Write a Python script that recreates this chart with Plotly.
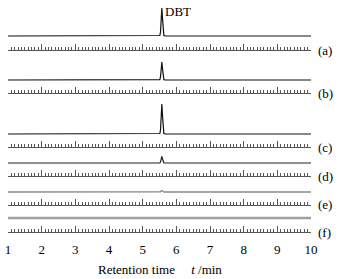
import plotly.graph_objects as go

# ---- data ----
time_min = [1.0, 5.46, 5.51, 5.53, 5.55, 5.57, 5.59, 5.61, 5.63, 5.68, 10.0]
sig_a = [0, 0, 0.5, 4, 17, 28, 17, 4, 0.5, 0, 0]
sig_b = [0, 0, 0.3, 3, 11, 18, 11, 3, 0.3, 0, 0]
sig_c = [0, 0, 0.5, 4, 18, 30, 18, 4, 0.5, 0, 0]
sig_d = [0, 0, 0.1, 1, 4, 6.5, 4, 1, 0.1, 0, 0]
sig_e = [0, 0, 0, 0.3, 1, 1.5, 1, 0.3, 0, 0, 0]
sig_f = [0, 0, 0, 0, 0, 0, 0, 0, 0, 0, 0]
signals = [sig_a, sig_b, sig_c, sig_d, sig_e, sig_f]
panel_labels = ["(a)", "(b)", "(c)", "(d)", "(e)", "(f)"]
tick_vals = [1, 2, 3, 4, 5, 6, 7, 8, 9, 10]
tick_text = ["1", "2", "3", "4", "5", "6", "7", "8", "9", "10"]
peak_label = "DBT"

# ---- layout / style ----
W, H = 340, 279
# (axis line pixel y, panel top pixel y, baseline offset px)
panels_px = [(50, 4, 14), (93, 57, 13), (147, 100, 13), (176, 151, 13), (205, 180, 13), (232, 207, 14)]
line_colors = ["#111111", "#111111", "#111111", "#222222", "#8a8a8a", "#a0a0a0"]
line_widths = [1.2, 1.2, 1.2, 1.2, 1.4, 2.6]
serif = "Times New Roman"

fig = go.Figure()
layout = dict(
    width=W, height=H,
    margin=dict(l=8, r=29, t=0, b=0, autoexpand=False),
    paper_bgcolor="white", plot_bgcolor="white",
    showlegend=False,
    font=dict(family=serif, size=13, color="black"),
)

for i, (sig, (ax_px, top_px, off)) in enumerate(zip(signals, panels_px)):
    n = "" if i == 0 else str(i + 1)
    fig.add_trace(go.Scatter(
        x=time_min, y=sig, mode="lines",
        line=dict(color=line_colors[i], width=line_widths[i]),
        xaxis="x" + n, yaxis="y" + n, hoverinfo="skip", cliponaxis=False,
    ))
    d0 = (H - ax_px) / H
    d1 = (H - top_px) / H
    hpx = ax_px - top_px
    layout["xaxis" + n] = dict(
        domain=[0, 1], anchor="y" + n, range=[1, 10], automargin=False,
        showgrid=False, zeroline=False,
        showline=True, linecolor="#555555", linewidth=1,
        ticks="inside", ticklen=6, tickwidth=1, tickcolor="#555555",
        tickmode="array", tickvals=tick_vals, ticktext=tick_text,
        showticklabels=(i == 5), ticklabelstandoff=5,
        tickfont=dict(family=serif, size=13, color="black"),
        minor=dict(dtick=0.1, tick0=1, ticks="inside", ticklen=3, tickwidth=1,
                   tickcolor="#555555", showgrid=False),
    )
    layout["yaxis" + n] = dict(
        domain=[d0, d1], anchor="x" + n, range=[-off, hpx - off],
        visible=False, fixedrange=True, automargin=False,
    )

annotations = []
for i, (ax_px, top_px, off) in enumerate(panels_px):
    annotations.append(dict(
        x=1.0, xref="paper", xanchor="left", xshift=5,
        y=(H - ax_px) / H, yref="paper", yanchor="middle",
        text=panel_labels[i], showarrow=False,
        font=dict(family=serif, size=13, color="black"),
    ))
annotations.append(dict(
    x=5.6, xref="x", xanchor="left", y=1.0 - 12 / H, yref="paper", yanchor="middle",
    text=peak_label, showarrow=False, font=dict(family=serif, size=13, color="black"),
))
annotations.append(dict(
    x=5.5, xref="x", xanchor="center", y=(H - 269) / H, yref="paper", yanchor="middle",
    text="Retention time&nbsp;&nbsp;&nbsp;&nbsp;&nbsp;<i>t</i> /min", showarrow=False,
    font=dict(family=serif, size=13, color="black"),
))
layout["annotations"] = annotations
fig.update_layout(**layout)
fig.write_html("out.html", config={"displayModeBar": False, "staticPlot": True},
               post_script="document.body.style.margin='0';")
